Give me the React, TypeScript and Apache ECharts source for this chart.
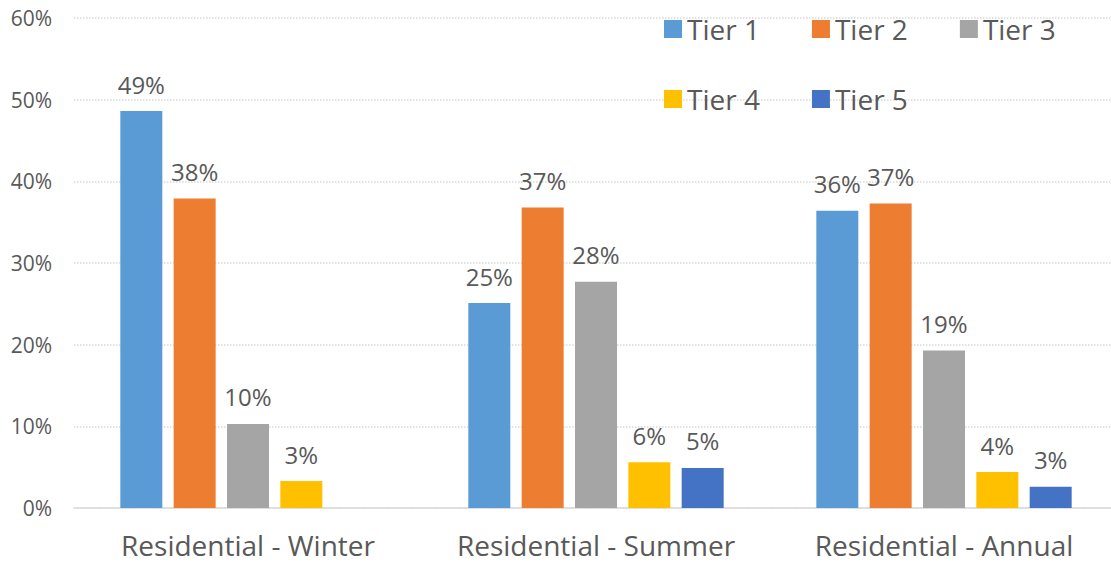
import React, { useEffect, useRef } from "react";
import * as echarts from "echarts";

const categories = ["Residential - Winter", "Residential - Summer", "Residential - Annual"];
const tierNames = ["Tier 1", "Tier 2", "Tier 3", "Tier 4", "Tier 5"];
const tier1 = [48.6, 25.1, 36.4];
const tier2 = [37.9, 36.8, 37.3];
const tier3 = [10.3, 27.7, 19.3];
const tier4 = [3.3, 5.6, 4.4];
const tier5: (number | string)[] = ["-", 4.9, 2.6];
const tierColors = ["#5B9BD5", "#ED7D31", "#A5A5A5", "#FFC000", "#4472C4"];
const yTicks = { min: 0, max: 60, interval: 10 };

const FONT = "'Open Sans', 'Noto Sans', sans-serif";
const TEXT = "#595959";

export default function App() {
  const ref = useRef<HTMLDivElement>(null);
  useEffect(() => {
    document.body.style.margin = "0";
    if (!ref.current) return;
    const chart = echarts.init(ref.current, null, { renderer: "svg" });
    const seriesData = [tier1, tier2, tier3, tier4, tier5];
    const legendText = { color: TEXT, fontSize: 28, fontFamily: FONT, lineHeight: 30 };
    const legendBase = {
      left: 664,
      padding: 0,
      itemWidth: 18,
      itemHeight: 18,
      itemGap: 52,
      icon: "rect",
      textStyle: legendText,
    };
    chart.setOption({
      animation: false,
      textStyle: { fontFamily: FONT },
      legend: [
        { ...legendBase, data: tierNames.slice(0, 3), top: 14 },
        { ...legendBase, data: tierNames.slice(3), top: 84 },
      ],
      grid: {
        left: 74,
        width: 1044,
        top: 18,
        bottom: 57,
        containLabel: false,
        outerBoundsMode: "none",
      },
      xAxis: {
        type: "category",
        data: categories,
        axisLine: { lineStyle: { color: "#D9D9D9", width: 1.5 } },
        axisTick: { show: false },
        axisLabel: {
          color: TEXT,
          fontSize: 28,
          lineHeight: 28,
          fontFamily: FONT,
          margin: 23,
          interval: 0,
          hideOverlap: false,
        },
      },
      yAxis: {
        type: "value",
        min: yTicks.min,
        max: yTicks.max,
        interval: yTicks.interval,
        axisLine: { show: false },
        axisTick: { show: false },
        axisLabel: { color: TEXT, fontSize: 21, fontFamily: FONT, margin: 22, formatter: "{value}%" },
        splitLine: { lineStyle: { color: "#D9D9D9", type: "dotted", width: 1.5 } },
      },
      series: tierNames.map((name, i) => ({
        name,
        type: "bar",
        data: seriesData[i],
        barWidth: 42,
        barGap: "27%",
        itemStyle: { color: tierColors[i] },
        label: {
          show: true,
          position: "top",
          distance: 15,
          color: TEXT,
          fontSize: 24,
          fontFamily: FONT,
          formatter: (p: any) => Math.round(p.value) + "%",
        },
      })),
    });
    return () => chart.dispose();
  }, []);
  return <div ref={ref} style={{ width: 1111, height: 565 }} />;
}
